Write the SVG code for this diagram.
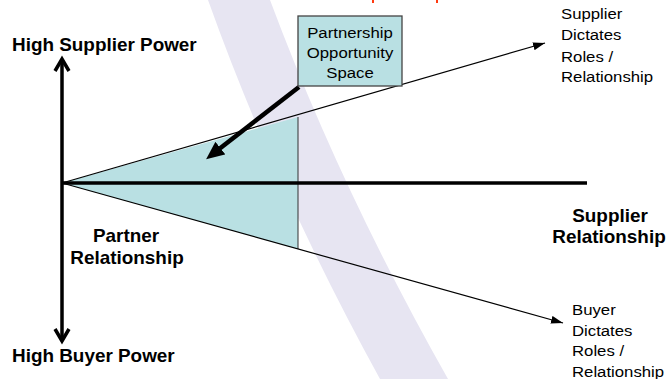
<svg xmlns="http://www.w3.org/2000/svg" width="667" height="379" viewBox="0 0 667 379">
<style>
text{font-family:"Liberation Sans",Arial,sans-serif;fill:#000}
.b{font-weight:bold;font-size:17.5px}
.r{font-size:15.5px}
.m{text-anchor:middle}
.thin{stroke:#000;stroke-width:1.2;fill:none}
.axis{stroke:#000;stroke-width:3.5;fill:none}
.teal{fill:#b9e0e3}
</style>
<defs>
<marker id="ah" markerUnits="userSpaceOnUse" markerWidth="12" markerHeight="8" refX="12" refY="4" orient="auto" viewBox="0 0 12 8"><path d="M0,0 L12,4 L0,8 z" fill="#000"/></marker>
<marker id="ahBig" markerUnits="userSpaceOnUse" markerWidth="18" markerHeight="16" refX="8" refY="8" orient="auto" viewBox="0 0 18 16"><path d="M0,0 L18,8 L0,16 z" fill="#000"/></marker>
</defs>
<rect width="667" height="379" fill="#fff"/>
<path id="band" d="M208,0 Q276,190 380,379 L448,379 Q341,190 270,0 Z" fill="#e7e5f2"/>
<rect x="372" y="0" width="2" height="3" fill="#ff3a10"/>
<rect x="436" y="0" width="2" height="3" fill="#ff3a10"/>
<g id="opportunity-region">
<polygon class="teal" points="62,183 298,117 298,249"/>
<line x1="298" y1="117" x2="298" y2="249" stroke="#333" stroke-width="1"/>
</g>
<g id="connectors">
<line class="thin" x1="62" y1="183" x2="545" y2="43" marker-end="url(#ah)"/>
<line class="thin" x1="62" y1="183" x2="563" y2="323" marker-end="url(#ah)"/>
<line class="axis" x1="62" y1="183" x2="587" y2="183"/>
<line class="axis" x1="62" y1="59" x2="62" y2="341"/>
<polyline class="axis" points="55,71 62,59 69,71"/>
<polyline class="axis" points="55,329 62,341 69,329"/>
<line x1="299" y1="87" x2="214" y2="153" stroke="#000" stroke-width="4.5" marker-end="url(#ahBig)"/>
</g>
<g id="box">
<rect x="298" y="16" width="104" height="70" fill="#b9e0e3" stroke="#444" stroke-width="1.3"/>
<text class="r m" transform="translate(350,37.5) scale(1.08,1)">Partnership</text>
<text class="r m" transform="translate(350,57.5) scale(1.08,1)">Opportunity</text>
<text class="r m" transform="translate(350,78) scale(1.08,1)">Space</text>
</g>
<g id="high-supplier">
<text class="b" transform="translate(12,51) scale(1.08,1)">High Supplier Power</text>
</g>
<g id="high-buyer">
<text class="b" transform="translate(12,362) scale(1.08,1)">High Buyer Power</text>
</g>
<g id="partner">
<text class="b m" transform="translate(126,242) scale(1.08,1)">Partner</text>
<text class="b m" transform="translate(127,264) scale(1.08,1)">Relationship</text>
</g>
<g id="supplier-rel">
<text class="b m" transform="translate(610,222) scale(1.08,1)">Supplier</text>
<text class="b m" transform="translate(609,243) scale(1.08,1)">Relationship</text>
</g>
<g id="supplier-dictates">
<text class="r" transform="translate(561,19) scale(1.08,1)">Supplier</text>
<text class="r" transform="translate(561,40) scale(1.08,1)">Dictates</text>
<text class="r" transform="translate(561,61.5) scale(1.08,1)">Roles /</text>
<text class="r" transform="translate(561,82) scale(1.08,1)">Relationship</text>
</g>
<g id="buyer-dictates">
<text class="r" transform="translate(572,315) scale(1.08,1)">Buyer</text>
<text class="r" transform="translate(572,335.5) scale(1.08,1)">Dictates</text>
<text class="r" transform="translate(572,356) scale(1.08,1)">Roles /</text>
<text class="r" transform="translate(572,377) scale(1.08,1)">Relationship</text>
</g>
</svg>
